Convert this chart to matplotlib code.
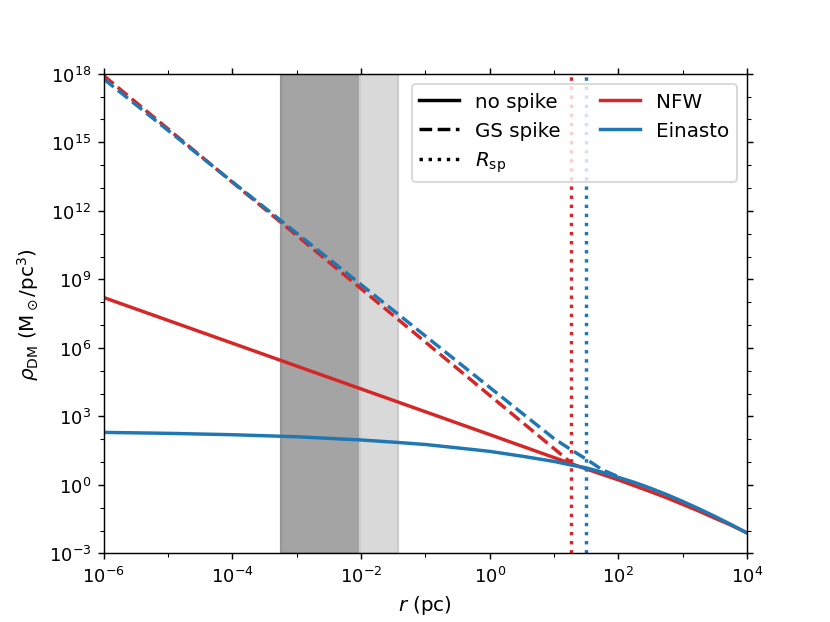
import numpy as np
import matplotlib
matplotlib.use("Agg")
import matplotlib.pyplot as plt
from matplotlib.lines import Line2D
from matplotlib.ticker import NullFormatter

r_nfw = [1e-6, 1e-5, 1e-4, 1e-3, 1e-2, 1e-1, 1, 10, 31.6, 100, 316, 562, 1000, 1778, 3162, 5623, 1e4]
rho_nfw = [1.6e8, 1.6e7, 1.6e6, 1.6e5, 1.6e4, 1.6e3, 160, 15.8, 5.0, 1.66, 0.51, 0.275, 0.141,
           0.072, 0.035, 0.0174, 0.0079]

r_ein = [1e-6, 1e-5, 1e-4, 1e-3, 1e-2, 3.16e-2, 1e-1, 0.316, 1, 3.16, 10, 17.8, 31.6, 56.2,
         100, 178, 316, 562, 1000, 1778, 3162, 5623, 1e4]
rho_ein = [200, 182, 158, 129, 93, 75, 59, 42, 29.5, 18.2, 10.7, 7.6, 5.6, 3.6,
           2.14, 1.29, 0.72, 0.38, 0.19, 0.091, 0.042, 0.0186, 0.0079]

# GS spike profiles
r_sp_nfw = [1e-6, 1e-4, 1e-2, 1, 10, 18.5]
rho_sp_nfw = [8.3e17, 1.78e13, 3.9e8, 8.3e3, 39, 9.3]
r_sp_ein = [1e-6, 1e-4, 1e-2, 1, 3.16, 10, 17.8, 31.6, 56.2, 100]
rho_sp_ein = [5.9e17, 1.86e13, 5.9e8, 1.86e4, 1.41e3, 107, 37, 13.5, 4.6, 2.3]

# spike radii
R_sp = {"NFW": 18.5, "Einasto": 31.3}

# shaded radial ranges
span_dark = (5.7e-4, 9.6e-3)
span_light = (9.6e-3, 3.7e-2)

red = "#d62728"
blue = "#1f77b4"
lw = 1.9

fig, ax = plt.subplots(figsize=(6.385, 4.792), dpi=130)

ax.axvspan(*span_dark, facecolor="#a4a4a4", edgecolor="#969696", lw=1.2, zorder=0)
ax.axvspan(*span_light, facecolor="#d9d9d9", edgecolor="#cdcdcd", lw=1.2, zorder=0)

ax.plot(r_nfw, rho_nfw, color=red, lw=lw)
ax.plot(r_sp_nfw, rho_sp_nfw, color=red, lw=lw, ls="--")
ax.axvline(R_sp["NFW"], color=red, lw=lw, ls=":")

ax.plot(r_ein, rho_ein, color=blue, lw=lw)
ax.plot(r_sp_ein, rho_sp_ein, color=blue, lw=lw, ls="--")
ax.axvline(R_sp["Einasto"], color=blue, lw=lw, ls=":")

ax.set_xscale("log")
ax.set_yscale("log")
ax.set_xlim(1e-6, 1e4)
ax.set_ylim(1e-3, 1e18)

ax.set_xticks(10.0 ** np.arange(-6, 5, 2))
ax.set_xticks(10.0 ** np.arange(-6, 5), minor=True)
ax.set_yticks(10.0 ** np.arange(-3, 19, 3))
ax.set_yticks(10.0 ** np.arange(-3, 19), minor=True)
ax.xaxis.set_minor_formatter(NullFormatter())
ax.yaxis.set_minor_formatter(NullFormatter())
ax.tick_params(which="both", top=True, right=True, labelsize=10)

ax.set_xlabel(r"$r$ (pc)", fontsize=11)
ax.set_ylabel(r"$\rho_{\rm DM}$ (M$_\odot$/pc$^3$)", fontsize=11)

handles = [
    Line2D([], [], color="k", lw=lw, ls="-"),
    Line2D([], [], color="k", lw=lw, ls="--"),
    Line2D([], [], color="k", lw=lw, ls=":"),
    Line2D([], [], color=red, lw=lw),
    Line2D([], [], color=blue, lw=lw),
]
labels = ["no spike", "GS spike", r"$R_{\rm sp}$", "NFW", "Einasto"]
ax.legend(handles, labels, loc="upper right", ncol=2, fontsize=11)

fig.savefig("out.png", dpi=130)
